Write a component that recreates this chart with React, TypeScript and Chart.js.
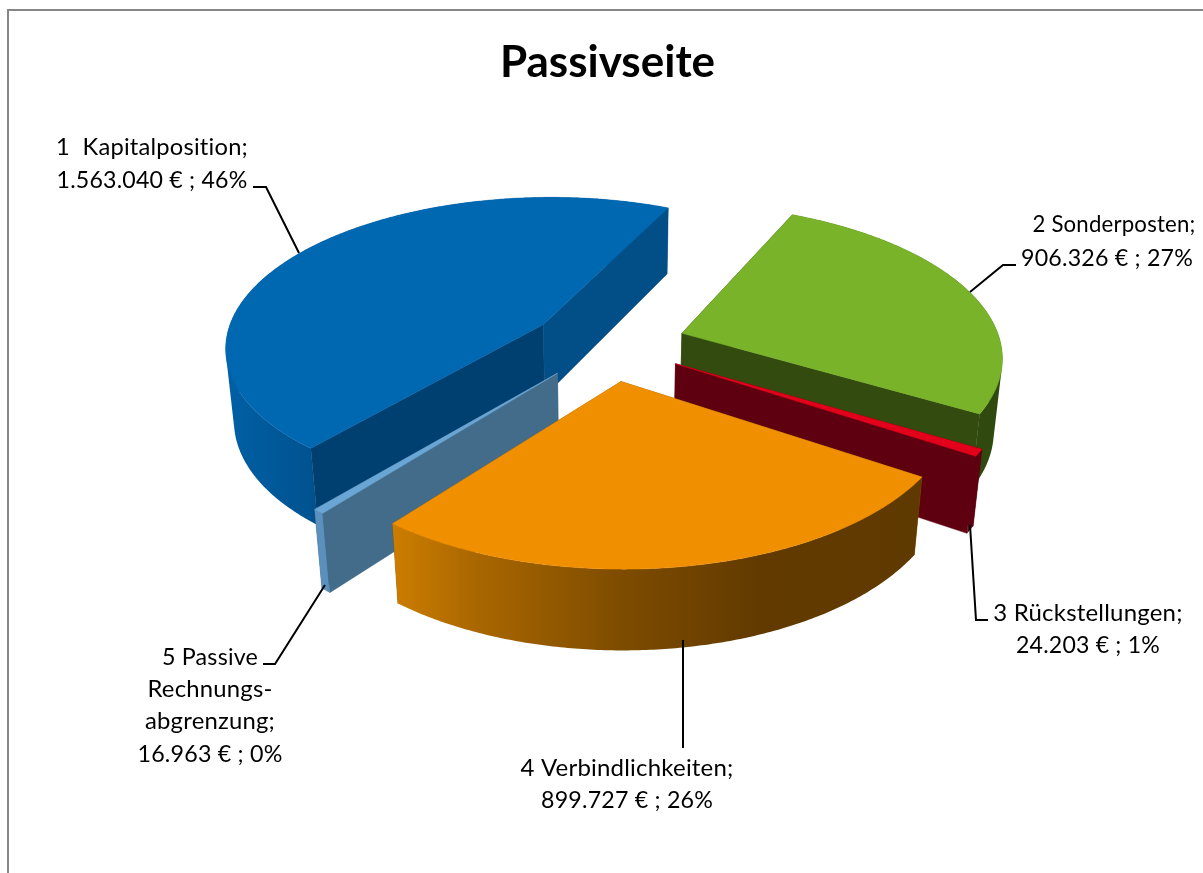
import React, { useEffect, useRef } from "react";
import { Chart, registerables } from "chart.js";

Chart.register(...registerables);

const categories = ["1  Kapitalposition", "2 Sonderposten", "3 Rückstellungen", "4 Verbindlichkeiten", "5 Passive Rechnungsabgrenzung"];
const values = [1563040, 906326, 24203, 899727, 16963];
const titleText = "Passivseite";

const topColors = ["#0067b1", "#78b32a", "#e3001b", "#f09000", "#6aa6d5"];
const startWallColors = ["#004070", "#334b0e", "#5e0010", "#8a5300", "#436c8b"];
const endWallColors = ["#024e87", "#334b0e", "#5e0010", "#8a5300", "#436c8b"];
const outerStops: [number, string][][] = [
  [[225, "#0060a5"], [315, "#00528f"]],
  [[680, "#30490e"], [1003, "#30490e"]],
  [[900, "#5e0010"], [1000, "#5e0010"]],
  [[393, "#cc7d00"], [480, "#a86600"], [620, "#7e4c00"], [760, "#623a00"], [920, "#5f3a00"]],
  [[300, "#5b90bd"], [340, "#5b90bd"]],
];
const paintOrder = [0, 1, 2, 4, 3];

const labelFont = "24px Lato";
const labelTexts: [string, number, number, number][] = [
  ["1  Kapitalposition;", 152, 155, 192],
  ["1.563.040 € ; 46%", 152, 188, 191],
  ["2 Sonderposten;", 1114, 232, 163],
  ["906.326 € ; 27%", 1107, 266, 172],
  ["3 Rückstellungen;", 1088, 621, 190],
  ["24.203 € ; 1%", 1088, 653, 144],
  ["4 Verbindlichkeiten;", 627, 776, 216],
  ["899.727 € ; 26%", 627, 808, 172],
  ["5 Passive", 210, 665, 96],
  ["Rechnungs-", 210, 697, 125],
  ["abgrenzung;", 210, 729, 130],
  ["16.963 € ; 0%", 210, 762, 145],
];
const leaders: [number, number][][] = [
  [[253, 187], [266, 187], [299, 253]],
  [[970, 292], [1003, 265], [1016, 265]],
  [[970, 525], [976, 620], [988, 620]],
  [[325, 585], [275, 664], [263, 664]],
  [[683, 640], [683, 748]],
];

const CX = 608, CY = 344, R = 319, RK = 150, P = 0.139, Q = 0.022, D = 74, EXPLODE = 0.245;

function project(u: number, v: number, z: number): [number, number] {
  const w = 1 - P * v + Q * z;
  return [CX + (R * u) / w, CY + (RK * v + D * z) / w];
}

type Pt = [number, number];

const fillPoly = (ctx: CanvasRenderingContext2D, pts: Pt[], fill: any) => {
  ctx.beginPath();
  pts.forEach((p, i) => (i ? ctx.lineTo(p[0], p[1]) : ctx.moveTo(p[0], p[1])));
  ctx.closePath();
  ctx.fillStyle = fill;
  ctx.strokeStyle = fill;
  ctx.lineWidth = 0.5;
  ctx.fill();
  ctx.stroke();
};

// Every quad gets the same winding and goes into one path, so the wall fills without seams.
const fillQuads = (ctx: CanvasRenderingContext2D, quads: Pt[][], fill: any) => {
  ctx.beginPath();
  for (const q of quads) {
    let area = 0;
    q.forEach((p, i) => {
      const n = q[(i + 1) % q.length];
      area += p[0] * n[1] - n[0] * p[1];
    });
    const pts = area < 0 ? q.slice().reverse() : q;
    pts.forEach((p, i) => (i ? ctx.lineTo(p[0], p[1]) : ctx.moveTo(p[0], p[1])));
    ctx.closePath();
  }
  ctx.fillStyle = fill;
  ctx.fill("nonzero");
};

const pie3d = {
  id: "pie3d",
  beforeDatasetDraw(chart: any) {
    const ctx: CanvasRenderingContext2D = chart.ctx;
    const arcs = chart.getDatasetMeta(0).data;
    ctx.save();
    for (const i of paintOrder) {
      // chart.js angles: 0 = east; here theta is clockwise from north
      const t0 = arcs[i].startAngle + Math.PI / 2;
      const t1 = arcs[i].endAngle + Math.PI / 2;
      const mid = (t0 + t1) / 2;
      const au = EXPLODE * Math.sin(mid);
      const av = -EXPLODE * Math.cos(mid);
      const rim = (t: number, z: number) => project(au + Math.sin(t), av - Math.cos(t), z);
      const apex = (z: number) => project(au, av, z);
      const n = Math.max(2, Math.ceil((t1 - t0) / 0.01));
      const arc: number[] = [];
      for (let k = 0; k <= n; k++) arc.push(t0 + ((t1 - t0) * k) / n);
      const radial = (t: number, c: string) =>
        fillPoly(ctx, [apex(0), rim(t, 0), rim(t, 1), apex(1)], c);
      const startVisible = -Math.sin(t0) > 0;
      const endVisible = Math.sin(t1) > 0;
      if (!startVisible) radial(t0, startWallColors[i]);
      if (!endVisible) radial(t1, endWallColors[i]);
      const stops = outerStops[i];
      const g = ctx.createLinearGradient(stops[0][0], 0, stops[stops.length - 1][0], 0);
      const span = stops[stops.length - 1][0] - stops[0][0];
      stops.forEach(([x, c]) => g.addColorStop((x - stops[0][0]) / span, c));
      const quads: Pt[][] = [];
      for (let k = 0; k < n; k++) {
        quads.push([rim(arc[k], 0), rim(arc[k + 1], 0), rim(arc[k + 1], 1), rim(arc[k], 1)]);
      }
      fillQuads(ctx, quads, g);
      if (startVisible) radial(t0, startWallColors[i]);
      if (endVisible) radial(t1, endWallColors[i]);
      fillPoly(ctx, [apex(0), ...arc.map((t) => rim(t, 0))], topColors[i]);
    }
    ctx.restore();
    return false;
  },
  afterDraw(chart: any) {
    const ctx: any = chart.ctx;
    ctx.save();
    ctx.strokeStyle = "#868686";
    ctx.lineWidth = 2;
    ctx.beginPath();
    ctx.moveTo(8, 880);
    ctx.lineTo(8, 10);
    ctx.lineTo(1210, 10);
    ctx.stroke();
    ctx.strokeStyle = "#000";
    ctx.lineWidth = 2;
    ctx.lineJoin = "miter";
    for (const l of leaders) {
      ctx.beginPath();
      l.forEach((p: number[], i: number) => (i ? ctx.lineTo(p[0], p[1]) : ctx.moveTo(p[0], p[1])));
      ctx.stroke();
    }
    ctx.fillStyle = "#000";
    ctx.font = labelFont;
    ctx.letterSpacing = "0.2px";
    ctx.textAlign = "center";
    ctx.textBaseline = "alphabetic";
    for (const [t, x, y, w] of labelTexts) ctx.fillText(t, x, y, w);
    ctx.restore();
  },
};

export default function App() {
  const ref = useRef<HTMLCanvasElement>(null);
  useEffect(() => {
    const chart = new Chart(ref.current!, {
      type: "pie",
      data: {
        labels: categories,
        datasets: [{ data: values, backgroundColor: topColors, borderWidth: 0 }],
      },
      options: {
        responsive: false,
        animation: false,
        rotation: 220,
        layout: { padding: { left: 12 } },
        plugins: {
          legend: { display: false },
          tooltip: { enabled: false },
          title: {
            display: true,
            text: titleText,
            color: "#000",
            font: { family: "Lato", size: 44, weight: "bold" },
            padding: { top: 36, bottom: 20 },
          },
        },
      },
      plugins: [pie3d],
    } as any);
    return () => chart.destroy();
  }, []);
  return (
    <div style={{ position: "fixed", left: 0, top: 0, width: 1203, height: 873, overflow: "hidden", background: "#fff" }}>
      <canvas ref={ref} width={1203} height={873} style={{ display: "block" }} />
    </div>
  );
}
